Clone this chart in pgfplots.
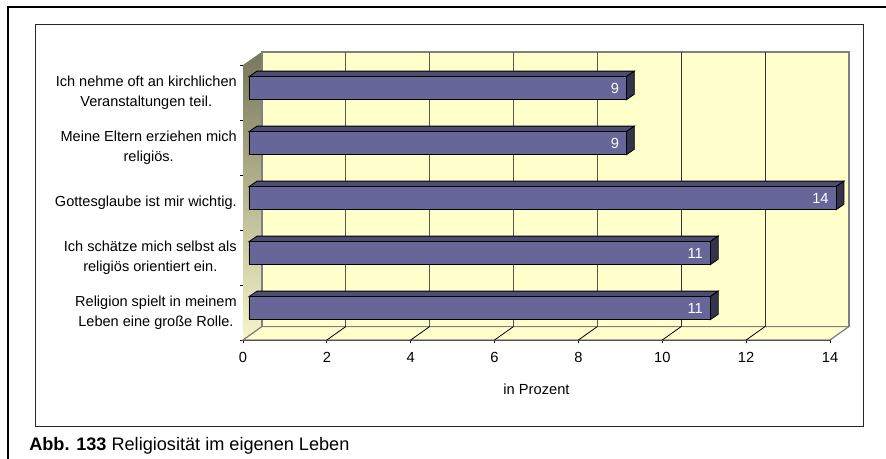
\documentclass[border=0pt]{standalone}
\usepackage{pgfplots}
\pgfplotsset{compat=1.18}
\usepackage{fontspec}
\setmainfont{Liberation Sans}
\newcommand{\PX}{0.75pt}
\definecolor{wall}{HTML}{FFFFCC}
\definecolor{barf}{HTML}{666699}
\definecolor{bart}{HTML}{4D4D73}
\definecolor{bars}{HTML}{33334D}
\definecolor{edge}{HTML}{808080}
\definecolor{grd}{HTML}{5A5A48}
\definecolor{sidedark}{HTML}{77775A}
\definecolor{sidelight}{HTML}{F6F6C9}
\begin{document}
\begin{tikzpicture}[x=\PX,y=\PX,font=\fontsize{11pt}{15pt}\selectfont]
\path[use as bounding box] (0,0) rectangle (886,459);
\draw[black,line width=1.5pt] (7.5,-5) -- (7.5,451.5) -- (890,451.5);
\draw[black!85,line width=0.75pt] (35,32) rectangle (863.5,434.5);
% chart frame axis: front plane
\begin{axis}[
  at={(243*\PX,119*\PX)},anchor=origin,
  scale only axis,width=587*\PX,height=275*\PX,
  xmin=0,xmax=14,ymin=0.5,ymax=5.5,
  clip=false,axis line style={black,line width=0.6pt},
  axis x line*=bottom,axis y line*=left,
  separate axis lines,
  xtick={0,2,4,6,8,10,12,14},
  ytick={0.5,1.5,2.5,3.5,4.5,5.5},yticklabels={},
  tick style={black,line width=0.6pt},
  major tick length=3.5*\PX,
  tick align=outside,
  /pgf/number format/assume math mode=true,
  xticklabel style={font=\fontsize{11pt}{12pt}\selectfont,yshift=-3pt},
  xlabel={in Prozent},
  xlabel style={font=\fontsize{11pt}{12pt}\selectfont,yshift=-9pt},
]
% side wall
\addplot[draw=none,shade,top color=sidedark,bottom color=sidelight] coordinates {(0,0.5)(0,5.5)(0.453,5.74)(0.453,0.745)} --cycle;
% floor and back wall
\addplot[draw=edge,line width=0.8pt,fill=wall] coordinates {(0,0.5)(0.453,0.745)(14.453,0.745)(14,0.5)} --cycle;
\addplot[draw=edge,line width=0.8pt,fill=wall] coordinates {(0.453,0.745)(0.453,5.736)(14.453,5.736)(14.453,0.745)} --cycle;
% grid
\addplot[line width=0.6pt,color=grd] coordinates {(2.453,0.745)(2.453,5.736)};
\addplot[line width=0.6pt,color=grd] coordinates {(4.453,0.745)(4.453,5.736)};
\addplot[line width=0.6pt,color=grd] coordinates {(6.453,0.745)(6.453,5.736)};
\addplot[line width=0.6pt,color=grd] coordinates {(8.453,0.745)(8.453,5.736)};
\addplot[line width=0.6pt,color=black!80] coordinates {(10.453,0.745)(10.453,5.736)};
\addplot[line width=0.6pt,color=black!80] coordinates {(12.453,0.745)(12.453,5.736)};
% floor ticks
\addplot[line width=0.6pt,edge] coordinates {(0,0.5)(0.453,0.745)};
\addplot[line width=0.6pt,black] coordinates {(2,0.5)(2.453,0.745)};
\addplot[line width=0.6pt,black] coordinates {(4,0.5)(4.453,0.745)};
\addplot[line width=0.6pt,black] coordinates {(6,0.5)(6.453,0.745)};
\addplot[line width=0.6pt,black] coordinates {(8,0.5)(8.453,0.745)};
\addplot[line width=0.6pt,black] coordinates {(10,0.5)(10.453,0.745)};
\addplot[line width=0.6pt,black] coordinates {(12,0.5)(12.453,0.745)};
\addplot[line width=0.6pt,edge] coordinates {(14,0.5)(14.453,0.745)};
\end{axis}
% bars axis, offset so that bars start off the side wall
\begin{axis}[
  at={(249*\PX,123.3*\PX)},anchor=origin,
  scale only axis,width=587*\PX,height=275*\PX,
  xmin=0,xmax=14,ymin=0.5,ymax=5.5,
  clip=false,
  axis x line=none,
  axis y line*=left,axis line style={draw=none},
  xtick=\empty,
  ytick={1,2,3,4,5},
  major tick length=0pt,
  yticklabels={{Religion spielt in meinem\\Leben eine große Rolle.},{Ich schätze mich selbst als\\religiös orientiert ein.},{Gottesglaube ist mir wichtig.},{Meine Eltern erziehen mich\\religiös.},{Ich nehme oft an kirchlichen\\Veranstaltungen teil.}},
  yticklabel style={align=center,font=\fontsize{10.9pt}{15pt}\selectfont,anchor=east,xshift=-12*\PX,yshift=-5*\PX,inner sep=0pt},
]
% top faces
\addplot[draw=black,line width=0.6pt,fill=bart] coordinates {(0,1.21)(11,1.21)(11.19,1.31)(0.19,1.31)} --cycle;
\addplot[draw=black,line width=0.6pt,fill=bart] coordinates {(0,2.21)(11,2.21)(11.19,2.31)(0.19,2.31)} --cycle;
\addplot[draw=black,line width=0.6pt,fill=bart] coordinates {(0,3.21)(14,3.21)(14.19,3.31)(0.19,3.31)} --cycle;
\addplot[draw=black,line width=0.6pt,fill=bart] coordinates {(0,4.21)(9,4.21)(9.19,4.31)(0.19,4.31)} --cycle;
\addplot[draw=black,line width=0.6pt,fill=bart] coordinates {(0,5.21)(9,5.21)(9.19,5.31)(0.19,5.31)} --cycle;
% side faces
\addplot[draw=black,line width=0.6pt,fill=bars] coordinates {(11,0.79)(11,1.21)(11.19,1.31)(11.19,0.89)} --cycle;
\addplot[draw=black,line width=0.6pt,fill=bars] coordinates {(11,1.79)(11,2.21)(11.19,2.31)(11.19,1.89)} --cycle;
\addplot[draw=black,line width=0.6pt,fill=bars] coordinates {(14,2.79)(14,3.21)(14.19,3.31)(14.19,2.89)} --cycle;
\addplot[draw=black,line width=0.6pt,fill=bars] coordinates {(9,3.79)(9,4.21)(9.19,4.31)(9.19,3.89)} --cycle;
\addplot[draw=black,line width=0.6pt,fill=bars] coordinates {(9,4.79)(9,5.21)(9.19,5.31)(9.19,4.89)} --cycle;
% front faces
\addplot[xbar,bar width=23*\PX,bar shift=0pt,draw=black,line width=0.6pt,fill=barf,
  nodes near coords,
  nodes near coords align={left},
  every node near coord/.append style={text=white,font=\fontsize{11pt}{12pt}\selectfont,inner sep=0pt,xshift=-7*\PX},
  /pgf/number format/assume math mode=true] coordinates {(11,1)(11,2)(14,3)(9,4)(9,5)};
\end{axis}
\node[anchor=base west,inner sep=0pt,font=\fontsize{13.6pt}{15pt}\selectfont] at (29,8) {\textbf{Abb. 133} Religiosität im eigenen Leben};
\end{tikzpicture}
\end{document}
